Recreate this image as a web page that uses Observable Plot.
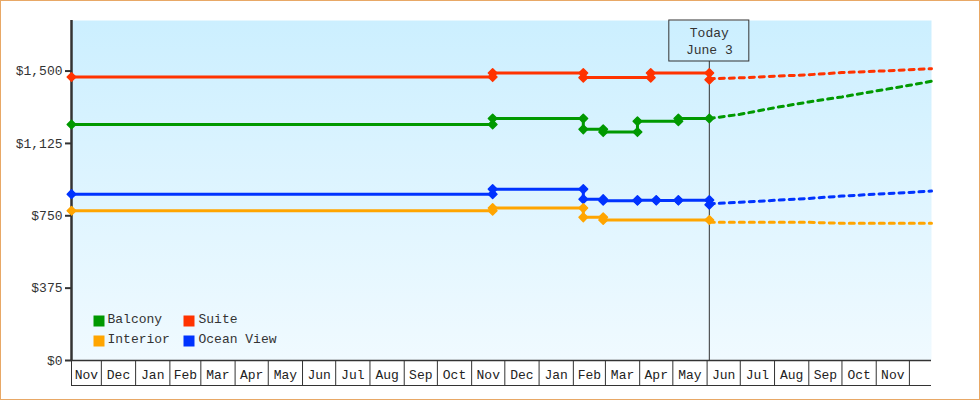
<!DOCTYPE html>
<html><head><meta charset="utf-8">
<script src="https://cdn.jsdelivr.net/npm/d3@7"></script>
<script src="https://cdn.jsdelivr.net/npm/@observablehq/plot@0.6"></script>
<style>
body{margin:0;background:#fff;}
#wrap{position:relative;width:980px;height:400px;}
#wrap::after{content:"";position:absolute;left:0;top:0;right:0;bottom:0;border:1px solid #e8a866;pointer-events:none;}
#wrap svg{display:block;}
</style></head><body><div id="wrap"></div>
<script>
// ---------- data ----------
const seriesNames = ["Balcony", "Suite", "Interior", "Ocean View"];
const seriesColors = ["#009900", "#ff3300", "#ffa500", "#0033ff"];

const suiteDates = ["2014-11-04", "2015-11-20", "2016-02-10", "2016-04-11", "2016-06-03"];
const suitePrices = [1469, 1490, 1466, 1490, 1455];

const balconyDates = ["2014-11-04", "2015-11-20", "2016-02-10", "2016-02-28", "2016-03-30", "2016-05-06", "2016-06-03"];
const balconyPrices = [1223, 1254, 1198, 1184, 1240, 1254, 1254];

const oceanDates = ["2014-11-04", "2015-11-20", "2016-02-10", "2016-02-28", "2016-03-30", "2016-04-16", "2016-05-06", "2016-06-03"];
const oceanPrices = [862, 888, 836, 828, 831, 829, 831, 807];

const interiorDates = ["2014-11-04", "2015-11-20", "2016-02-10", "2016-02-28", "2016-06-03"];
const interiorPrices = [776, 790, 742, 728, 728];

const projDates = ["2016-06-03", "2016-07-01", "2016-08-01", "2016-09-01", "2016-10-01", "2016-11-01", "2016-12-01", "2016-12-21"];
const suiteProj = [1460, 1465, 1473, 1481, 1492, 1499, 1507, 1512];
const balconyProj = [1254, 1276, 1310, 1340, 1366, 1397, 1426, 1447];
const oceanProj = [812, 820, 830, 840, 852, 862, 871, 878];
const interiorProj = [716, 716, 716, 716, 711, 711, 711, 711];

const yTicks = [0, 375, 750, 1125, 1500];
const yMax = 1762;
const domainStart = "2014-11-04";
const domainEnd = "2016-12-21";
const todayDate = "2016-06-03";
const todayLabel = "Today\nJune 3";
const firstMonth = "2014-11-01";
const monthLabels = ["Nov","Dec","Jan","Feb","Mar","Apr","May","Jun","Jul","Aug","Sep","Oct",
                     "Nov","Dec","Jan","Feb","Mar","Apr","May","Jun","Jul","Aug","Sep","Oct","Nov"];

// ---------- build tables ----------
const D = s => new Date(s + "T00:00:00Z");
const x0 = D(domainStart), x1 = D(domainEnd), today = D(todayDate);

const actual = [], markers = [], proj = [];
function addSeries(name, dates, prices, pvals) {
  dates.forEach((d, i) => {
    actual.push({series: name, date: D(d), price: prices[i]});
    markers.push({series: name, date: D(d), price: prices[i]});
    if (i > 0 && prices[i - 1] !== prices[i]) markers.push({series: name, date: D(d), price: prices[i - 1]});
  });
  projDates.forEach((d, i) => proj.push({series: name, date: D(d), price: pvals[i]}));
}
addSeries("Suite", suiteDates, suitePrices, suiteProj);
addSeries("Balcony", balconyDates, balconyPrices, balconyProj);
addSeries("Ocean View", oceanDates, oceanPrices, oceanProj);
addSeries("Interior", interiorDates, interiorPrices, interiorProj);

const monthStarts = monthLabels.map((_, i) => d3.utcMonth.offset(D(firstMonth), i));
const boundaries = [x0, ...monthStarts.slice(1), d3.utcMonth.offset(D(firstMonth), monthLabels.length)].filter(d => d >= x0 && d < x1);
const monthRows = monthLabels.map((lab, i) => {
  const a = new Date(Math.max(+monthStarts[i], +x0));
  const b = new Date(Math.min(+d3.utcMonth.offset(monthStarts[i], 1), +x1));
  return {label: lab, mid: new Date((+a + +b) / 2)};
});

const diamond = {draw(ctx, size) { const h = Math.sqrt(size / Math.PI); ctx.moveTo(0, -h); ctx.lineTo(h, 0); ctx.lineTo(0, h); ctx.lineTo(-h, 0); ctx.closePath(); }};
const square = {draw(ctx, size) { const h = Math.sqrt(size / Math.PI); ctx.rect(-h, -h, 2 * h, 2 * h); }};

const legendMarks = [];
seriesNames.forEach((name, i) => {
  const col = i % 2, row = Math.floor(i / 2);
  legendMarks.push(Plot.dot([name], {frameAnchor: "bottom-left", dx: 27.5 + col * 90, dy: -39.5 + row * 20, symbol: square, r: 5.5, fill: seriesColors[i], stroke: null}));
  legendMarks.push(Plot.text([name], {frameAnchor: "bottom-left", text: d => d, dx: 36 + col * 91, dy: -37.5 + row * 20, textAnchor: "start", fontSize: 13, fill: "#333"}));
});

const chart = Plot.plot({
  width: 980, height: 400,
  marginLeft: 71, marginRight: 49, marginTop: 20, marginBottom: 40,
  style: {fontFamily: "Liberation Mono, DejaVu Sans Mono, monospace", fontSize: "13px", background: "transparent", overflow: "visible"},
  x: {type: "utc", domain: [x0, x1]},
  y: {domain: [0, yMax]},
  color: {domain: seriesNames, range: seriesColors},
  marks: [
    Plot.frame({fill: "#dff4fd", stroke: "none"}),
    Plot.ruleX([today], {stroke: "#333", strokeWidth: 1, insetTop: 41}),
    Plot.rect([today], {x1: d => d, x2: d => d, y1: yMax, y2: yMax, insetLeft: -40, insetRight: -40, insetBottom: -41, fill: "none", stroke: "#333", strokeWidth: 1}),
    Plot.text([today], {x: d => d, y: yMax, text: () => todayLabel, lineAnchor: "top", dy: 5, lineHeight: 1.3, fontSize: 13, fill: "#333"}),
    Plot.line(actual, {x: "date", y: "price", stroke: "series", curve: "step-after", strokeWidth: 3}),
    Plot.line(proj, {x: "date", y: "price", stroke: "series", strokeWidth: 3, strokeDasharray: "5,5"}),
    Plot.ruleX([x0], {stroke: "#333", strokeWidth: 2.5}),
    Plot.ruleY([0], {stroke: "#333", strokeWidth: 1.5}),
    Plot.ruleY([0], {stroke: "#333", strokeWidth: 1, dy: 25}),
    Plot.dot(markers, {x: "date", y: "price", fill: "series", stroke: "series", strokeWidth: 1.5, strokeLinejoin: "round", symbol: diamond, r: 4.3}),
    Plot.axisY({ticks: yTicks, tickFormat: d3.format("$,"), tickSize: 6, tickPadding: 3, strokeWidth: 2, stroke: "#333", fill: "#333", fontSize: 13, label: null}),
    Plot.axisX({ticks: boundaries, tickSize: 25, tickFormat: () => "", stroke: "#333", strokeWidth: 1, label: null}),
    Plot.text(monthRows, {x: "mid", text: "label", frameAnchor: "bottom", lineAnchor: "top", dy: 9, fontSize: 13, fill: "#222"}),
    ...legendMarks
  ]
});

const svg = d3.select(chart);
svg.insert("defs", ":first-child").html('<linearGradient id="bgGrad" x1="0" y1="0" x2="0" y2="1"><stop offset="0" stop-color="#ccefff"/><stop offset="1" stop-color="#f0faff"/></linearGradient>');
svg.selectAll('[aria-label="frame"], [aria-label="frame"] rect').attr("fill", "url(#bgGrad)");
document.getElementById("wrap").appendChild(chart);
</script>
</body></html>
